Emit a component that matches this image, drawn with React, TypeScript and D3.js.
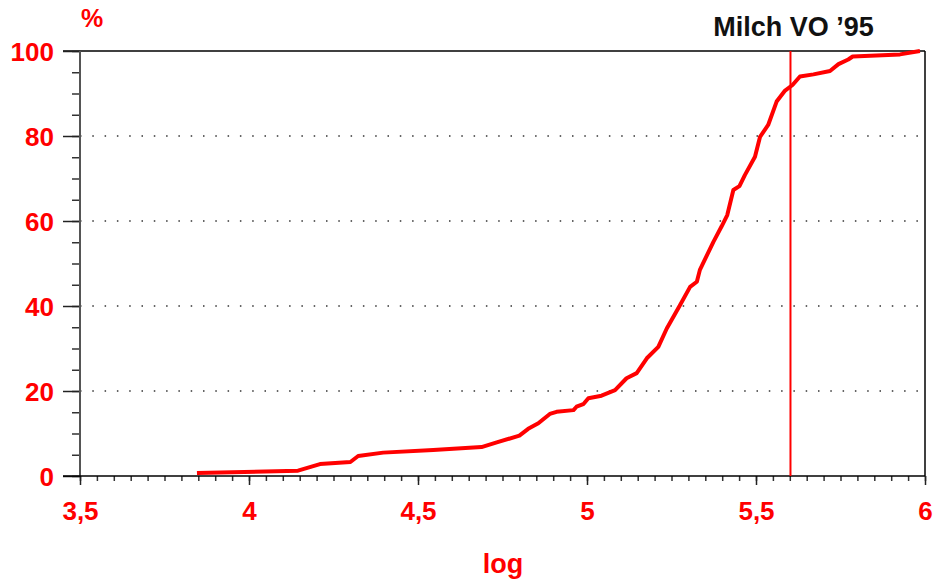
import * as d3 from "d3";
import { useEffect, useRef } from "react";

// cumulative distribution, x = log10(cells), y = %
const logValues = [
  3.846, 4.145, 4.21, 4.3, 4.323, 4.397, 4.545, 4.688, 4.733, 4.8, 4.826, 4.856,
  4.89, 4.91, 4.96, 4.969, 4.989, 5.004, 5.043, 5.083, 5.117, 5.147, 5.177, 5.211,
  5.236, 5.275, 5.305, 5.325, 5.334, 5.374, 5.398, 5.415, 5.433, 5.451, 5.467, 5.497,
  5.512, 5.536, 5.561, 5.586, 5.608, 5.63, 5.67, 5.719, 5.744, 5.773, 5.786, 5.926, 5.985,
];
const percentValues = [
  0.7, 1.25, 2.8, 3.3, 4.7, 5.5, 6.1, 6.8, 7.9, 9.5, 11.1, 12.4,
  14.6, 15.1, 15.5, 16.3, 16.9, 18.3, 18.9, 20.2, 23.0, 24.2, 27.7, 30.4,
  34.7, 40.2, 44.5, 45.7, 48.5, 55.1, 58.7, 61.4, 67.3, 68.2, 70.8, 75.1,
  79.8, 82.6, 88.1, 90.7, 92.0, 94.0, 94.5, 95.3, 96.9, 98.0, 98.7, 99.2, 100,
];
const xTicks = [3.5, 4, 4.5, 5, 5.5, 6];
const yTicks = [0, 20, 40, 60, 80, 100];
const gridValues = [20, 40, 60, 80];
const limitValue = 5.602;
const limitLabel = "Milch VO ’95";

const W = 937;
const H = 580;
const margin = { top: 51, right: 12, bottom: 104, left: 80 };
const innerW = W - margin.left - margin.right;
const innerH = H - margin.top - margin.bottom;
const font = "'Liberation Sans', Arial, Helvetica, sans-serif";

export default function App() {
  const x = d3.scaleLinear().domain([3.5, 6]).range([0, innerW]);
  const y = d3.scaleLinear().domain([0, 100]).range([innerH, 0]);

  const pts = logValues.map((v, i) => [v, percentValues[i]] as [number, number]);
  const line = d3
    .line<[number, number]>()
    .x((d) => x(d[0]))
    .y((d) => y(d[1]));

  return (
    <svg
      width={W}
      height={H}
      style={{ position: "absolute", left: 0, top: 0, background: "#fff" }}
      fontFamily={font}
    >
      <g transform={`translate(${margin.left},${margin.top})`}>
        {gridValues.map((g) => (
          <line
            key={g}
            x1={0}
            x2={innerW}
            y1={y(g)}
            y2={y(g)}
            stroke="#333"
            strokeWidth={1.5}
            strokeDasharray="1.5,10.8"
          />
        ))}
        {/* frame top/right */}
        <line x1={-17} x2={innerW} y1={0} y2={0} stroke="#000" strokeWidth={1.5} />
        <line x1={innerW} x2={innerW} y1={0} y2={innerH} stroke="#000" strokeWidth={1.5} />
        <AxisLeft scale={y} />
        <AxisBottom scale={x} height={innerH} width={innerW} />
        <line
          x1={x(limitValue)}
          x2={x(limitValue)}
          y1={0}
          y2={innerH}
          stroke="#ff0000"
          strokeWidth={2}
        />
        <path
          d={line(pts) ?? ""}
          fill="none"
          stroke="#ff0000"
          strokeWidth={4}
          strokeLinejoin="round"
          strokeLinecap="butt"
        />
        <text
          x={x(limitValue) + 3}
          y={-15}
          textAnchor="middle"
          fontSize={27}
          fontWeight="bold"
          fill="#111"
        >
          {limitLabel}
        </text>
      </g>
      <text x={92} y={27} textAnchor="middle" fontSize={25} fontWeight="bold" fill="#ff0000">
        %
      </text>
      <text x={503} y={573} textAnchor="middle" fontSize={27} fontWeight="bold" fill="#ff0000">
        log
      </text>
    </svg>
  );
}

function AxisLeft({ scale }: { scale: d3.ScaleLinear<number, number> }) {
  const ref = useRef<SVGGElement>(null);
  useEffect(() => {
    if (!ref.current) return;
    const g = d3.select(ref.current);
    g.selectAll("*").remove();
    g.call(d3.axisLeft(scale).tickValues(d3.range(0, 101, 5)).tickSize(8).tickFormat(() => ""));
    g.call((s) => s.select(".domain").remove());
    g.selectAll(".tick line").attr("stroke", "#333").attr("stroke-width", 1.5);
    const major = d3.select(ref.current).append("g");
    major.call(
      d3.axisLeft(scale).tickValues(yTicks).tickSize(17).tickPadding(9).tickFormat((d) => String(d))
    );
    major.select(".domain").remove();
    major.selectAll(".tick line").attr("stroke", "#222").attr("stroke-width", 1.5);
    major
      .selectAll(".tick text")
      .attr("fill", "#ff0000")
      .attr("font-size", 26)
      .attr("font-weight", "bold")
      .attr("font-family", font)
      .attr("dy", "0.36em");
    g.append("line")
      .attr("y1", scale.range()[0])
      .attr("y2", scale.range()[1])
      .attr("stroke", "#555")
      .attr("stroke-width", 2);
  }, [scale]);
  return <g ref={ref} />;
}

function AxisBottom({
  scale,
  height,
  width,
}: {
  scale: d3.ScaleLinear<number, number>;
  height: number;
  width: number;
}) {
  const ref = useRef<SVGGElement>(null);
  useEffect(() => {
    if (!ref.current) return;
    const g = d3.select(ref.current);
    g.selectAll("*").remove();
    g.call(
      d3
        .axisBottom(scale)
        .tickValues(d3.range(0, 51).map((i) => 3.5 + i * 0.05))
        .tickSize(5)
        .tickFormat(() => "")
    );
    g.select(".domain").remove();
    g.selectAll(".tick line").attr("stroke", "#333").attr("stroke-width", 1.5);
    const major = g.append("g");
    major.call(
      d3
        .axisBottom(scale)
        .tickValues(xTicks)
        .tickSize(9)
        .tickPadding(17)
        .tickFormat((d) => String(d).replace(".", ","))
    );
    major.select(".domain").remove();
    major.selectAll(".tick line").attr("stroke", "#222").attr("stroke-width", 1.5);
    major
      .selectAll(".tick text")
      .attr("fill", "#ff0000")
      .attr("font-size", 26)
      .attr("font-weight", "bold")
      .attr("font-family", font);
    g.append("line")
      .attr("x1", -17)
      .attr("x2", width)
      .attr("stroke", "#000")
      .attr("stroke-width", 1.5);
  }, [scale, width]);
  return <g ref={ref} transform={`translate(0,${height})`} />;
}
